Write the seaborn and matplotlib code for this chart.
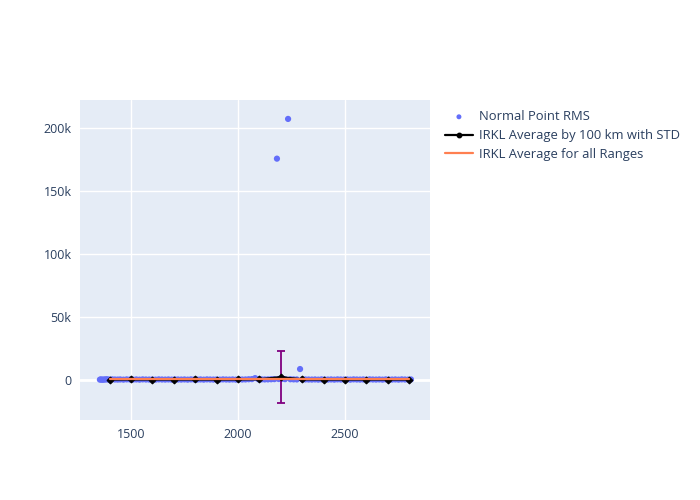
import matplotlib
matplotlib.use("Agg")
import matplotlib.pyplot as plt
import seaborn as sns
import pandas as pd
import numpy as np
from matplotlib.ticker import FuncFormatter, FixedLocator

# Normal point RMS values
np_range = [1355, 1360, 1366, 1372, 1378, 1385, 1392, 1400, 1412, 1425, 1438, 1450, 1465,
            1480, 1495, 1510, 1525, 1540, 1555, 1570, 1585, 1600, 1615, 1630, 1645,
            1660, 1675, 1690, 1705, 1720, 1735, 1750, 1765, 1780, 1795, 1810, 1825,
            1840, 1855, 1870, 1885, 1900, 1915, 1930, 1945, 1960, 1975, 1990, 2005,
            2020, 2035, 2050, 2065, 2080, 2095, 2110, 2125, 2140, 2155, 2170, 2182,
            2190, 2205, 2220, 2234, 2245, 2260, 2275, 2290, 2300, 2315, 2330, 2345,
            2360, 2375, 2390, 2405, 2420, 2435, 2450, 2465, 2480, 2495, 2510, 2525,
            2540, 2555, 2570, 2585, 2600, 2615, 2630, 2645, 2660, 2675, 2690, 2705,
            2720, 2735, 2750, 2765, 2780, 2795, 2808]
np_rms = [300, 500, 200, 400, 350, 600, 450, 300, 500, 400, 350, 450, 300,
          500, 400, 350, 450, 300, 500, 400, 350, 450, 300, 500, 400,
          350, 450, 300, 500, 400, 350, 450, 300, 500, 400, 350, 450,
          300, 500, 400, 350, 450, 300, 500, 400, 350, 450, 300, 500,
          400, 450, 600, 700, 1500, 600, 500, 450, 500, 600, 700, 175500,
          800, 900, 700, 207000, 600, 500, 450, 8700, 500, 450, 400, 350,
          450, 300, 500, 400, 350, 450, 300, 500, 400, 350, 450, 300,
          500, 400, 350, 450, 300, 500, 400, 350, 450, 300, 500, 400,
          350, 450, 300, 500, 400, 350, 450]

# Average by 100 km
avg_range = [1400, 1500, 1600, 1700, 1800, 1900, 2000, 2100, 2200, 2300, 2400, 2500, 2600, 2700, 2800]
avg_val = [350, 420, 400, 400, 420, 380, 420, 600, 2300, 500, 400, 400, 400, 400, 400]
avg_std = [0, 0, 0, 0, 0, 0, 0, 0, 20700, 0, 0, 0, 0, 0, 0]

# Average for all ranges
all_range = [1400, 2800]
all_val = [450, 450]

sns.set_theme(style="darkgrid", rc={
    "axes.facecolor": "#E5ECF6",
    "grid.color": "white",
    "grid.linewidth": 1.0,
    "axes.edgecolor": "#E5ECF6",
})
plt.rcParams['font.family'] = ['Open Sans', 'DejaVu Sans']

fig = plt.figure(figsize=(7, 5), dpi=100)
ax = fig.add_axes([80/700, 1 - 420/500, 350/700, 320/500])

ax.axhline(0, color="white", lw=2, zorder=1)

df_np = pd.DataFrame({"range": np_range, "rms": np_rms})
sns.scatterplot(data=df_np, x="range", y="rms", ax=ax, color="#636efa", s=20,
                edgecolor="none", zorder=3, label="Normal Point RMS", legend=False)

df_avg = pd.DataFrame({"range": avg_range, "val": avg_val, "std": avg_std})
ax.errorbar(df_avg["range"], df_avg["val"], yerr=[s if s > 0 else np.nan for s in df_avg["std"]],
            fmt="none", ecolor="purple", elinewidth=1.3, capsize=3, capthick=1.3, zorder=4)
sns.lineplot(data=df_avg, x="range", y="val", ax=ax, color="black", lw=1.6,
             marker="D", markersize=3.5, markeredgecolor="black", zorder=5,
             label="IRKL Average by 100 km with STD", legend=False)

df_all = pd.DataFrame({"range": all_range, "val": all_val})
sns.lineplot(data=df_all, x="range", y="val", ax=ax, color="#ff7f50", lw=1.6, zorder=6,
             label="IRKL Average for all Ranges", legend=False)

ax.set_xlim(1262, 2897)
ax.set_ylim(-31700, 222000)
ax.xaxis.set_major_locator(FixedLocator([1500, 2000, 2500]))
ax.yaxis.set_major_locator(FixedLocator([0, 50000, 100000, 150000, 200000]))
ax.yaxis.set_major_formatter(FuncFormatter(lambda v, p: "0" if v == 0 else f"{int(v/1000)}k"))
ax.set_xlabel("")
ax.set_ylabel("")
ax.tick_params(axis="both", length=0, labelsize=9, labelcolor="#2a3f5f", pad=6)
for s in ax.spines.values():
    s.set_visible(False)

h, l = ax.get_legend_handles_labels()
h[1] = matplotlib.lines.Line2D([], [], color="black", lw=1.6, marker="o", markersize=4)
leg = fig.legend(h, l, loc="upper left", bbox_to_anchor=(440/700, 1 - 105/500), frameon=False,
                 fontsize=9.4, labelcolor="#2a3f5f", handlelength=2.1, handletextpad=0.5,
                 borderaxespad=0, labelspacing=0.45, markerscale=0.8)

fig.savefig("out.png", dpi=100)
